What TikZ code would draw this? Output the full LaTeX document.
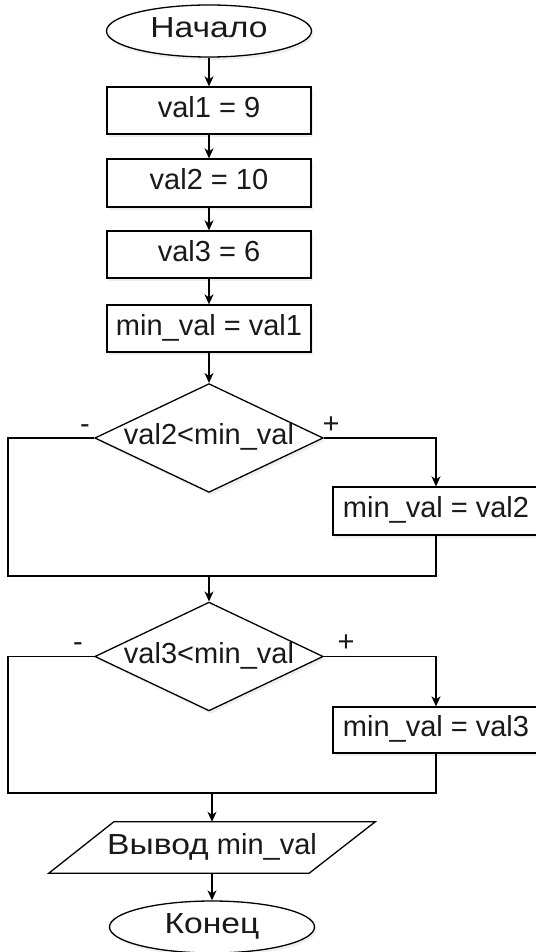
\documentclass[tikz,border=0pt]{standalone}
\usepackage{fontspec}
\setmainfont{Liberation Sans}
\newfontfamily\cyrwide[FakeStretch=1.16]{Liberation Sans}
\usetikzlibrary{shapes.geometric,arrows.meta,shadows,backgrounds}
\begin{document}
\begin{tikzpicture}[x=1pt,y=-1pt,
  every node/.style={font=\fontsize{29}{34}\selectfont, text=black!90, inner sep=0pt, text height=20.8pt, text depth=7pt},
  line/.style={draw=black, line width=1.3pt},
  arr/.style={line, -{Stealth[length=10pt,width=9pt,inset=3pt]}},
  shd/.style={drop shadow={shadow xshift=2pt,shadow yshift=-3pt,fill=black!12}},
  procbox/.style={line, rectangle, fill=white, shd, minimum width=204pt},
  term/.style={line, ellipse, fill=white, shd, minimum width=205pt, minimum height=52pt},
  decis/.style={line, diamond, fill=white, shd, shape aspect=2.1, minimum width=224pt, minimum height=108pt},
  sign/.style={anchor=base, text height=, text depth=}
]
\useasboundingbox (0,0) rectangle (535,952);

\node[term] (start) at (209,31) {\cyrwide Начало};
\node[procbox, minimum height=47pt] (b1) at (209,110.5) {val1 = 9};
\node[procbox, minimum height=48pt] (b2) at (209,183) {val2 = 10};
\node[procbox, minimum height=47pt] (b3) at (209,254.5) {val3 = 6};
\node[procbox, minimum height=47pt] (b4) at (209,328.5) {min\_val = val1};
\node[decis] (d1) at (209,438) {val2<min\_val};
\node[procbox, minimum width=206pt, minimum height=48pt] (b5) at (436,511) {min\_val = val2};
\coordinate (c1L) at (8,576);
\coordinate (c1M) at (209,576);
\coordinate (c1R) at (436,576);
\node[decis] (d2) at (209,656.5) {val3<min\_val};
\node[procbox, minimum width=206pt, minimum height=46pt] (b6) at (436,730) {min\_val = val3};
\coordinate (c2L) at (8,793);
\coordinate (c2M) at (212,793);
\coordinate (c2R) at (436,793);
\node[minimum width=326pt, minimum height=51pt] (out) at (212,847.5) {{\cyrwide Вывод} min\_val};
\node[term] (end) at (212,927) {\cyrwide Конец};

\begin{scope}[on background layer]
  \fill[black!12, xshift=2pt, yshift=3pt] (out.south west) -- ([xshift=-66pt]out.south east) -- (out.north east) -- ([xshift=65pt]out.north west) -- cycle;
  \draw[line, fill=white] (out.south west) -- ([xshift=-66pt]out.south east) -- (out.north east) -- ([xshift=65pt]out.north west) -- cycle;
\end{scope}

\node[sign] (m1) at (85,433) {-};
\node[sign] (p1) at (331,433) {+};
\node[sign] (m2) at (78,651) {-};
\node[sign] (p2) at (346,651) {+};

\draw[arr] (start) -- (b1);
\draw[arr] (b1) -- (b2);
\draw[arr] (b2) -- (b3);
\draw[arr] (b3) -- (b4);
\draw[arr] (b4) -- (d1);
\draw[arr] (d1.east) -| (b5.north);
\draw[line] (d1.west) -| (c1L) -- (c1R) -- (b5.south);
\draw[arr] (c1M) -- (d2.north);
\draw[arr] (d2.east) -| (b6.north);
\draw[line] (d2.west) -| (c2L) -- (c2R) -- (b6.south);
\draw[arr] (c2M) -- (out.north);
\draw[arr] (out.south) -- (end.north);
\end{tikzpicture}
\end{document}
